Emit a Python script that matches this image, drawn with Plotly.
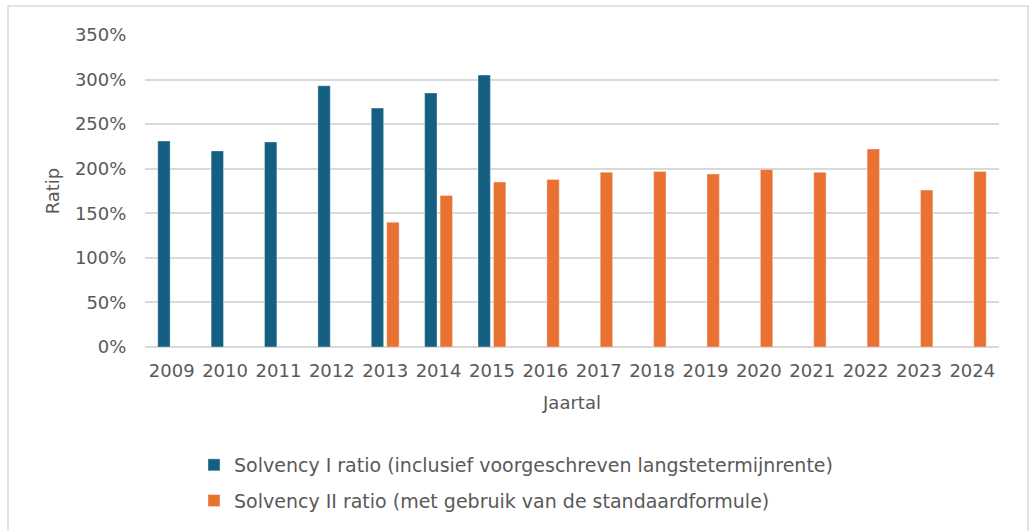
import plotly.graph_objects as go

years = ["2009", "2010", "2011", "2012", "2013", "2014", "2015", "2016",
         "2017", "2018", "2019", "2020", "2021", "2022", "2023", "2024"]
solvency1 = [231, 220, 230, 293, 268, 285, 305, None,
             None, None, None, None, None, None, None, None]
solvency2 = [None, None, None, None, 140, 170, 185, 188,
             196, 197, 194, 199, 196, 222, 176, 197]
name1 = "Solvency I ratio (inclusief voorgeschreven langstetermijnrente)"
name2 = "Solvency II ratio (met gebruik van de standaardformule)"

BLUE = "#156082"
ORANGE = "#E97132"
GRID = "#D9D9D9"
TXT = "#595959"
FONT = "DejaVu Sans"

fig = go.Figure()
fig.add_trace(go.Bar(x=years, y=solvency1, name=name1, legendgroup="a",
                     marker=dict(color=BLUE, line=dict(color="rgba(255,255,255,0.6)", width=0.6))))
fig.add_trace(go.Bar(x=years, y=solvency2, name=name2, legendgroup="b",
                     marker=dict(color=ORANGE, line=dict(color="rgba(255,255,255,0.6)", width=0.6))))

W, H = 1029, 531
L, R, T, B = 145, 30, 35, 184
pw = W - L - R
ph = H - T - B

def px(x):
    return (x - L) / pw

def py(y):
    return (H - B - y) / ph

fig.update_layout(
    width=W, height=H,
    margin=dict(l=L, r=R, t=T, b=B, autoexpand=False),
    paper_bgcolor="white", plot_bgcolor="white",
    barmode="group", bargap=0.42, bargroupgap=0.2,
    font=dict(family=FONT, size=18, color=TXT),
    showlegend=True,
    legend=dict(x=px(194), xanchor="left", y=py(446), yanchor="top",
                orientation="v", font=dict(size=19, color=TXT),
                tracegroupgap=8, itemwidth=30, bgcolor="rgba(0,0,0,0)"),
    xaxis=dict(type="category", showgrid=False, showline=False, zeroline=False,
               ticks="outside", ticklen=7, tickcolor="rgba(0,0,0,0)",
               tickfont=dict(size=18, color=TXT),
               title=dict(text="Jaartal", font=dict(size=18, color=TXT), standoff=16)),
    yaxis=dict(range=[0, 350], dtick=50, ticksuffix="%",
               showgrid=True, gridcolor=GRID, gridwidth=1.5,
               zeroline=True, zerolinecolor=GRID, zerolinewidth=1.5,
               showline=False,
               ticks="outside", ticklen=14, tickcolor="rgba(0,0,0,0)",
               tickfont=dict(size=18, color=TXT),
               title=dict(text="Ratip", font=dict(size=18, color=TXT), standoff=10)),
    shapes=[dict(type="rect", xref="paper", yref="paper",
                 x0=px(8), x1=px(1028), y0=py(545), y1=py(6),
                 line=dict(color=GRID, width=1.5), fillcolor="rgba(0,0,0,0)", layer="below")],
)

fig.write_html("out.html", config={"displayModeBar": False},
               post_script="document.body.style.margin='0px';document.body.style.overflow='hidden';")
